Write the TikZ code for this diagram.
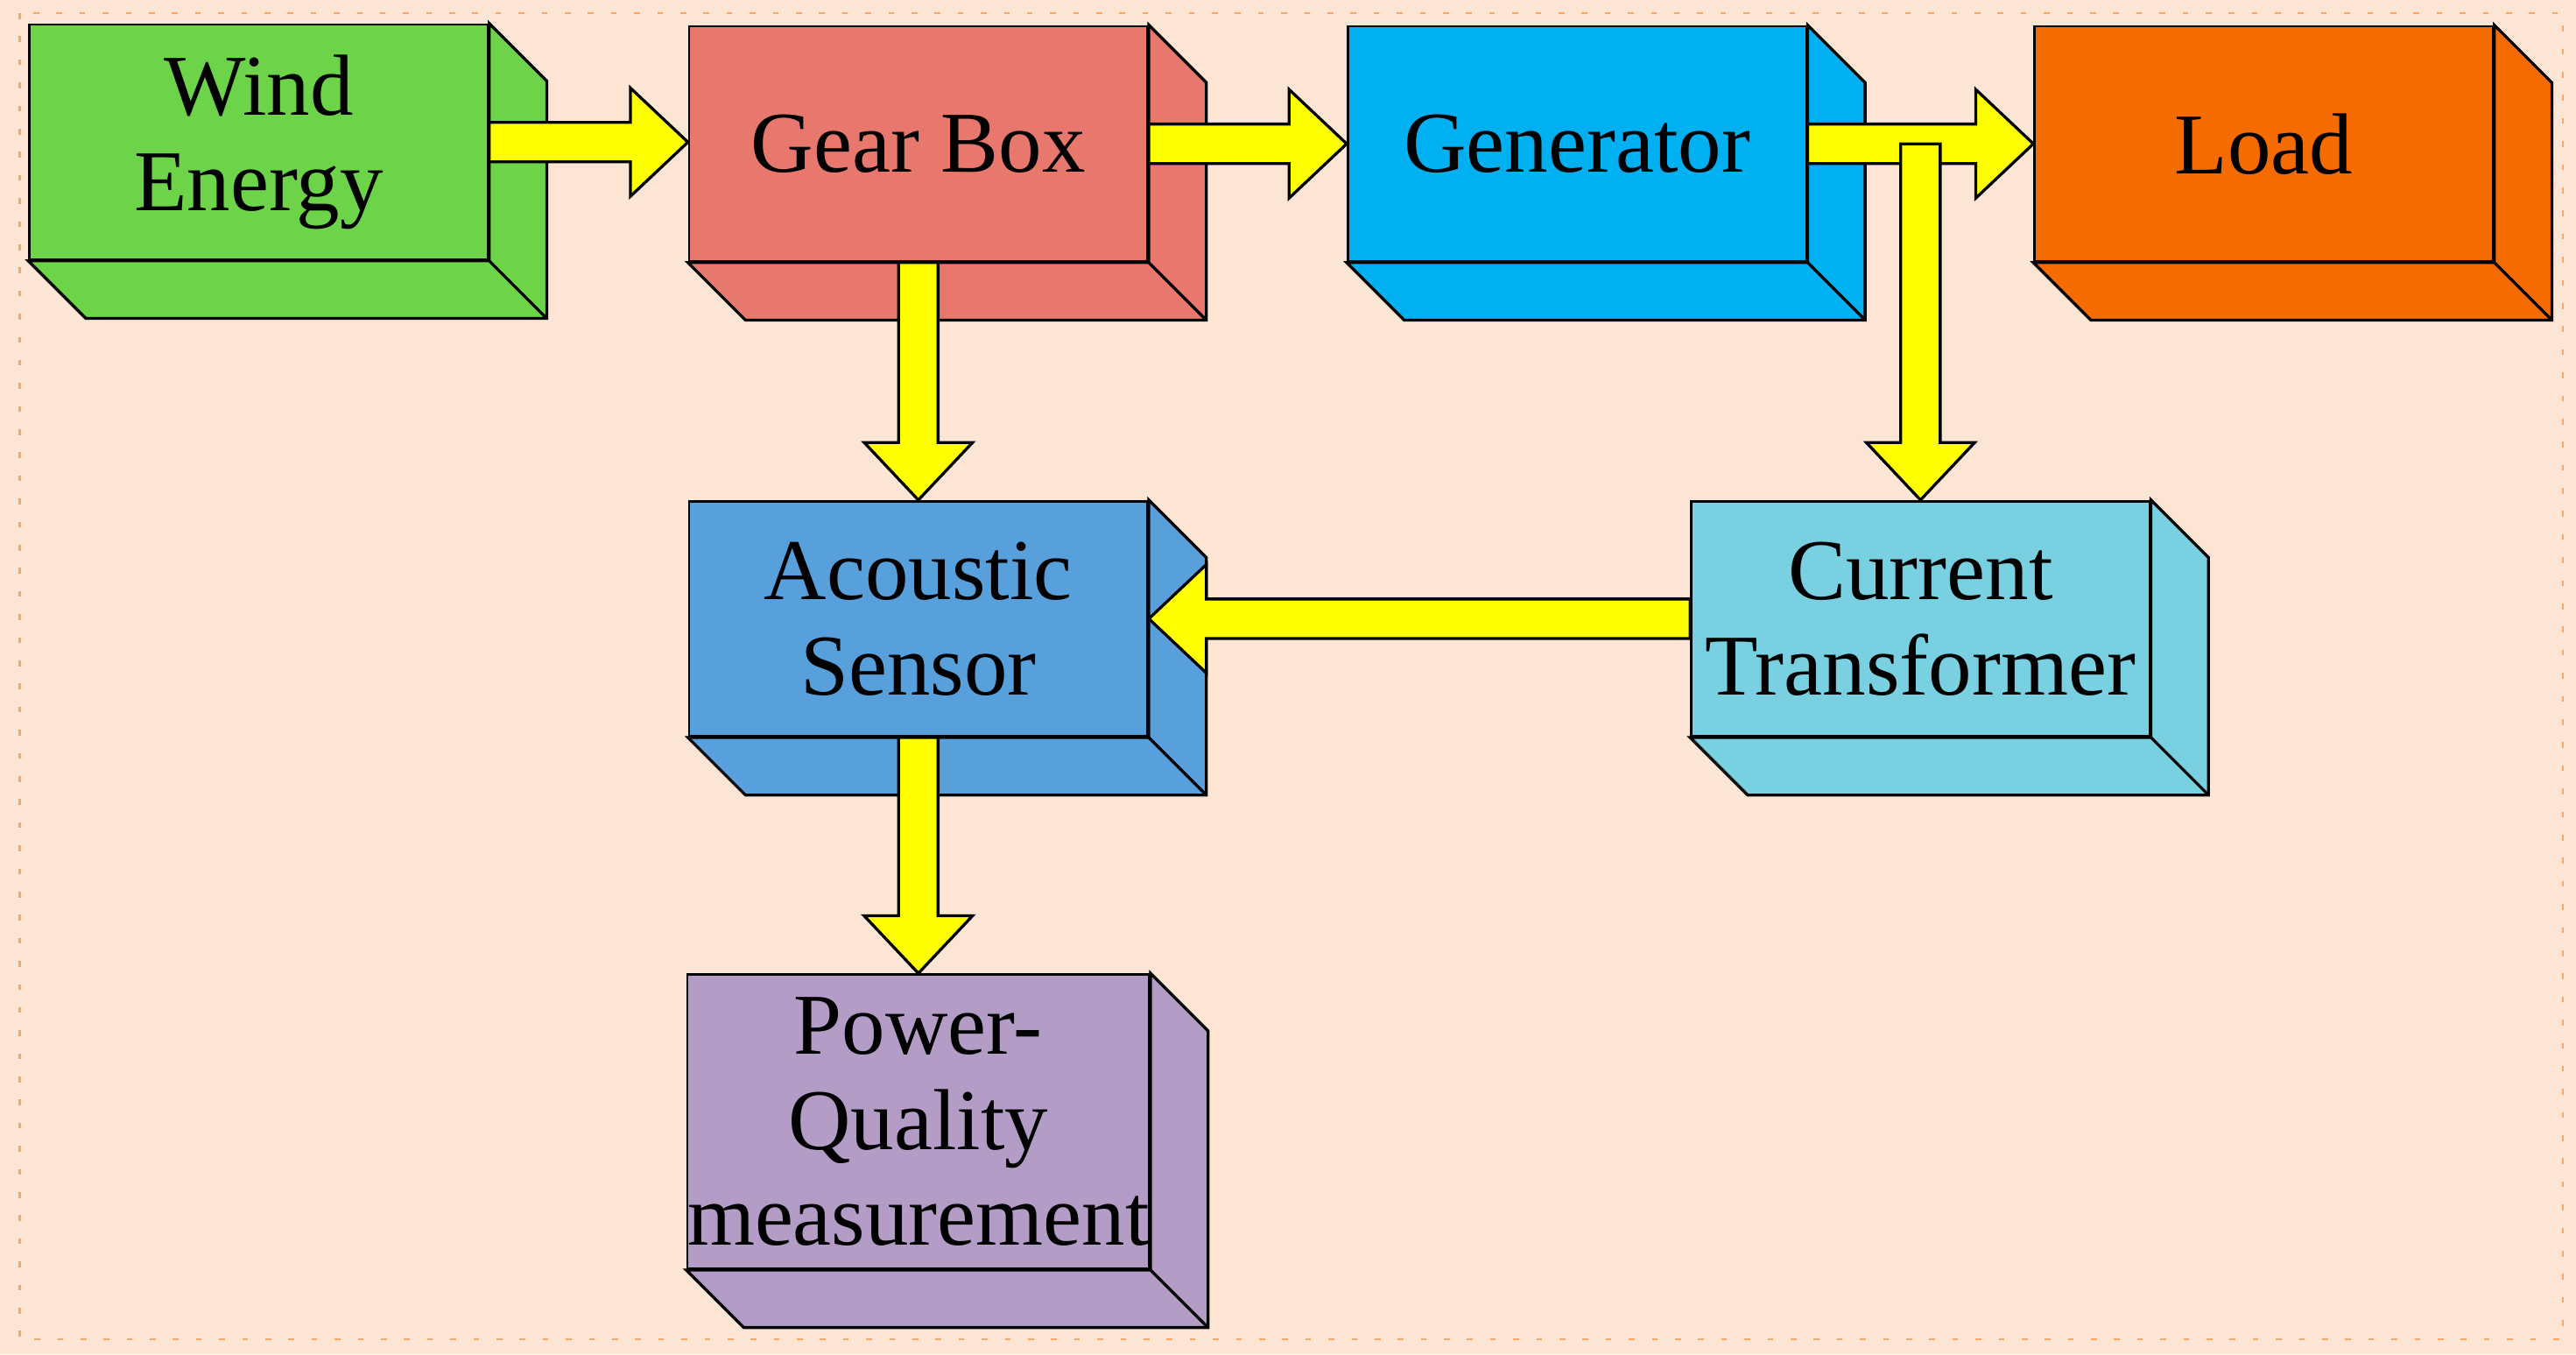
\documentclass[tikz,border=0pt]{standalone}
\usepackage{fontspec}
\setmainfont{Liberation Serif}
\usetikzlibrary{calc, positioning}

\definecolor{peach}{HTML}{FDE5D6}
\definecolor{cwind}{HTML}{6DD44A}
\definecolor{cgear}{HTML}{E8776E}
\definecolor{cgen}{HTML}{00B0F0}
\definecolor{cload}{HTML}{F56B00}
\definecolor{cacou}{HTML}{57A0DC}
\definecolor{cct}{HTML}{79D0E0}
\definecolor{cpow}{HTML}{B39CC6}
\definecolor{arrowyel}{HTML}{FFFF00}

\tikzset{
  box/.style={draw=black, fill=#1, minimum width=2.79cm, minimum height=1.43cm,
    inner sep=0pt, align=center, font=\fontsize{15}{16.5}\selectfont},
  blk/.style={draw=black, fill=arrowyel, line width=0.5pt, line join=miter}
}

% depth faces of a box (down and to the right)
\newcommand\depth[2]{
  \filldraw[fill=#2, draw=black, line width=0.5pt] (#1.north east) -- ++(0.35cm,-0.35cm)
    -- ($(#1.south east)+(0.35cm,-0.35cm)$) -- ($(#1.south west)+(0.35cm,-0.35cm)$)
    -- (#1.south west) -- (#1.south east) -- cycle;
  \draw[line width=0.5pt] (#1.south east) -- ++(0.35cm,-0.35cm);
}
% block arrows: right, left, down
\newcommand\rarrow[2]{
  \draw[blk] let \p1=(#1), \p2=(#2) in
    (\x1,\y1+0.12cm) -- (\x2-0.35cm,\y1+0.12cm) -- (\x2-0.35cm,\y1+0.33cm) -- (\x2,\y1)
    -- (\x2-0.35cm,\y1-0.33cm) -- (\x2-0.35cm,\y1-0.12cm) -- (\x1,\y1-0.12cm) -- cycle;
}
\newcommand\larrow[2]{
  \draw[blk] let \p1=(#1), \p2=(#2) in
    (\x1,\y1+0.12cm) -- (\x2+0.35cm,\y1+0.12cm) -- (\x2+0.35cm,\y1+0.33cm) -- (\x2,\y1)
    -- (\x2+0.35cm,\y1-0.33cm) -- (\x2+0.35cm,\y1-0.12cm) -- (\x1,\y1-0.12cm) -- cycle;
}
\newcommand\darrow[2]{
  \draw[blk] let \p1=(#1), \p2=(#2) in
    (\x1-0.12cm,\y1) -- (\x1-0.12cm,\y2+0.35cm) -- (\x1-0.33cm,\y2+0.35cm) -- (\x1,\y2)
    -- (\x1+0.33cm,\y2+0.35cm) -- (\x1+0.12cm,\y2+0.35cm) -- (\x1+0.12cm,\y1) -- cycle;
}

\begin{document}
\begin{tikzpicture}[x=0.01cm, y=-0.01cm]

  \fill[peach] (0,0) rectangle (1568,824);
  \draw[cload!60, line width=0.4pt, dash pattern=on 1pt off 3pt] (12,8) rectangle (1560,815);

  \node[box=cwind] (wind) at (157.5,86.5) {Wind\\Energy};
  \node[box=cgear] (gear) at (559,87.5) {Gear Box};
  \node[box=cgen] (gen) at (960,87.5) {Generator};
  \node[box=cload] (load) at (1378,87.5) {Load};
  \node[box=cacou] (acou) at (559,376.5) {Acoustic\\Sensor};
  \node[box=cct] (ct) at (1169,376.5) {Current\\Transformer};
  \node[box=cpow, minimum height=1.79cm] (pow) at (559,682.5) {Power-\\Quality\\measurement};

  \foreach \n/\c in {wind/cwind, gear/cgear, gen/cgen, load/cload, acou/cacou, ct/cct, pow/cpow}
    {\depth{\n}{\c}}

  \rarrow{wind.east}{gear.west}
  \rarrow{gear.east}{gen.west}
  \rarrow{gen.east}{load.west}
  \darrow{ct.north |- gen.east}{ct.north}
  \darrow{gear.south}{acou.north}
  \larrow{ct.west}{acou.east}
  \darrow{acou.south}{pow.north}

\end{tikzpicture}
\end{document}
